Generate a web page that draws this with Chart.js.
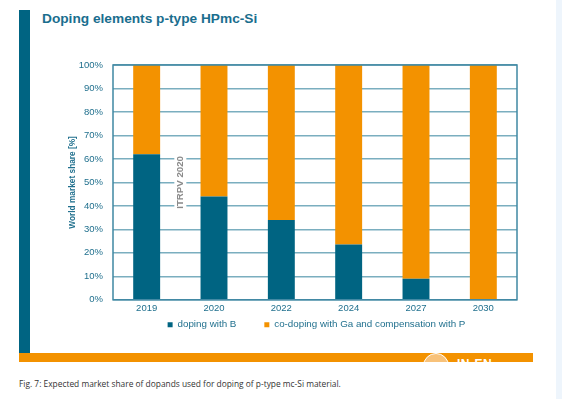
<!DOCTYPE html>
<html><head><meta charset="utf-8">
<script src="https://cdn.jsdelivr.net/npm/chart.js@4/dist/chart.umd.min.js"></script>
<style>
html,body{margin:0;padding:0;background:#fff;width:562px;height:399px;overflow:hidden;position:relative;font-family:"Liberation Sans",Arial,sans-serif}
#side{position:absolute;left:19px;top:10px;width:11px;height:343px;background:#006482}
#foot{position:absolute;left:19px;top:353px;width:514px;height:9px;background:#f39200;overflow:hidden}
#logo{position:absolute;left:438px;top:4px;color:#fff;font-weight:bold;font-size:12px;letter-spacing:0.5px}
#circ{position:absolute;left:404px;top:0px;width:24px;height:24px;border-radius:50%;border:1.5px solid #fff;background:#f8c27a}
#panel{position:absolute;left:556px;top:0;width:6px;height:399px;background:#eef5fc}
#title{position:absolute;left:42px;top:11px;font-weight:bold;font-size:13.7px;color:#1a6e8e;white-space:nowrap}
#cap{position:absolute;left:19px;top:378px;font-family:"Open Sans",sans-serif;font-size:8.4px;color:#333;white-space:nowrap}
#wrap{position:absolute;left:0;top:0;width:562px;height:365px}
</style></head><body>
<div id="side"></div>
<div id="foot"><div id="circ"></div><div id="logo">IN-EN</div></div>
<div id="panel"></div>
<div id="title">Doping elements p-type HPmc-Si</div>
<div id="cap">Fig. 7: Expected market share of dopands used for doping of p-type mc-Si material.</div>
<div id="wrap"><canvas id="c"></canvas></div>
<script>
const categories = ["2019","2020","2022","2024","2027","2030"];
const dopingB = [62, 44, 34, 23.5, 9, 0];
const coDopingGa = [38, 56, 66, 76.5, 91, 100];
const seriesNames = ["doping with B","co-doping with Ga and compensation with P"];
const yTicks = [0,10,20,30,40,50,60,70,80,90,100];
const annotation = "ITRPV 2020";

const teal = "#006482", orange = "#f39200", txt = "#1f6f8d";

const deco = {
  id:"deco",
  afterLayout(chart){
    const L = chart.legend;
    if (!L) return;
    const pad = L.options.labels.padding;
    const dy = (chart.chartArea.bottom + 20) - (L.top + pad);
    L.top += dy; L.bottom += dy;
    const dx = 24;
    L.left += dx; L.right += dx;
  },
  afterDatasetsDraw(chart){
    const {ctx, chartArea:a, scales} = chart;
    const x = (scales.x.getPixelForValue(0) + scales.x.getPixelForValue(1))/2;
    const y = scales.y.getPixelForValue(50);
    ctx.save();
    ctx.font = "bold 9.7px 'Liberation Sans', Arial, sans-serif";
    const w = ctx.measureText(annotation).width;
    ctx.fillStyle = "#fff";
    ctx.fillRect(x-6, y-w/2-4, 12, w+8);
    ctx.translate(x, y);
    ctx.rotate(-Math.PI/2);
    ctx.fillStyle = "#8a8a8a";
    ctx.textAlign = "center"; ctx.textBaseline = "middle";
    ctx.fillText(annotation, 0, 0);
    ctx.restore();
    ctx.save();
    ctx.strokeStyle = "#3f88a3"; ctx.lineWidth = 1.5;
    ctx.strokeRect(a.left, a.top, a.right-a.left, a.bottom-a.top);
    ctx.restore();
  }
};

new Chart(document.getElementById("c"), {
  type:"bar",
  data:{
    labels:categories,
    datasets:[
      {label:seriesNames[0], data:dopingB, backgroundColor:teal, borderWidth:0},
      {label:seriesNames[1], data:coDopingGa, backgroundColor:orange, borderWidth:0}
    ]
  },
  options:{
    responsive:true, maintainAspectRatio:false, animation:false,
    layout:{padding:{left:68, right:45, top:65, bottom:0}},
    categoryPercentage:0.8, barPercentage:0.5,
    scales:{
      x:{stacked:true, grid:{display:false, drawTicks:false, tickLength:0}, border:{display:false},
         ticks:{color:txt, font:{size:9.5, family:"'Liberation Sans', Arial"}, padding:3}},
      y:{stacked:true, min:0, max:100,
         afterFit(s){ s.width = 45; },
         afterBuildTicks(s){ s.ticks = yTicks.map(v=>({value:v})); },
         grid:{color:"#7aaebf", lineWidth:1.5, drawTicks:false},
         border:{display:false},
         ticks:{color:txt, font:{size:9.5, family:"'Liberation Sans', Arial"}, padding:10, callback:v=>v+"%"},
         title:{display:true, text:"World market share [%]", color:txt, font:{size:8.3, weight:"bold", family:"'Liberation Sans', Arial"}, padding:{top:0,bottom:0}}}
    },
    plugins:{
      legend:{position:"bottom", labels:{color:txt, boxWidth:5, boxHeight:5, padding:28, font:{size:9.8, family:"'Liberation Sans', Arial"}}},
      tooltip:{enabled:false}
    }
  },
  plugins:[deco]
});
</script>
</body></html>
